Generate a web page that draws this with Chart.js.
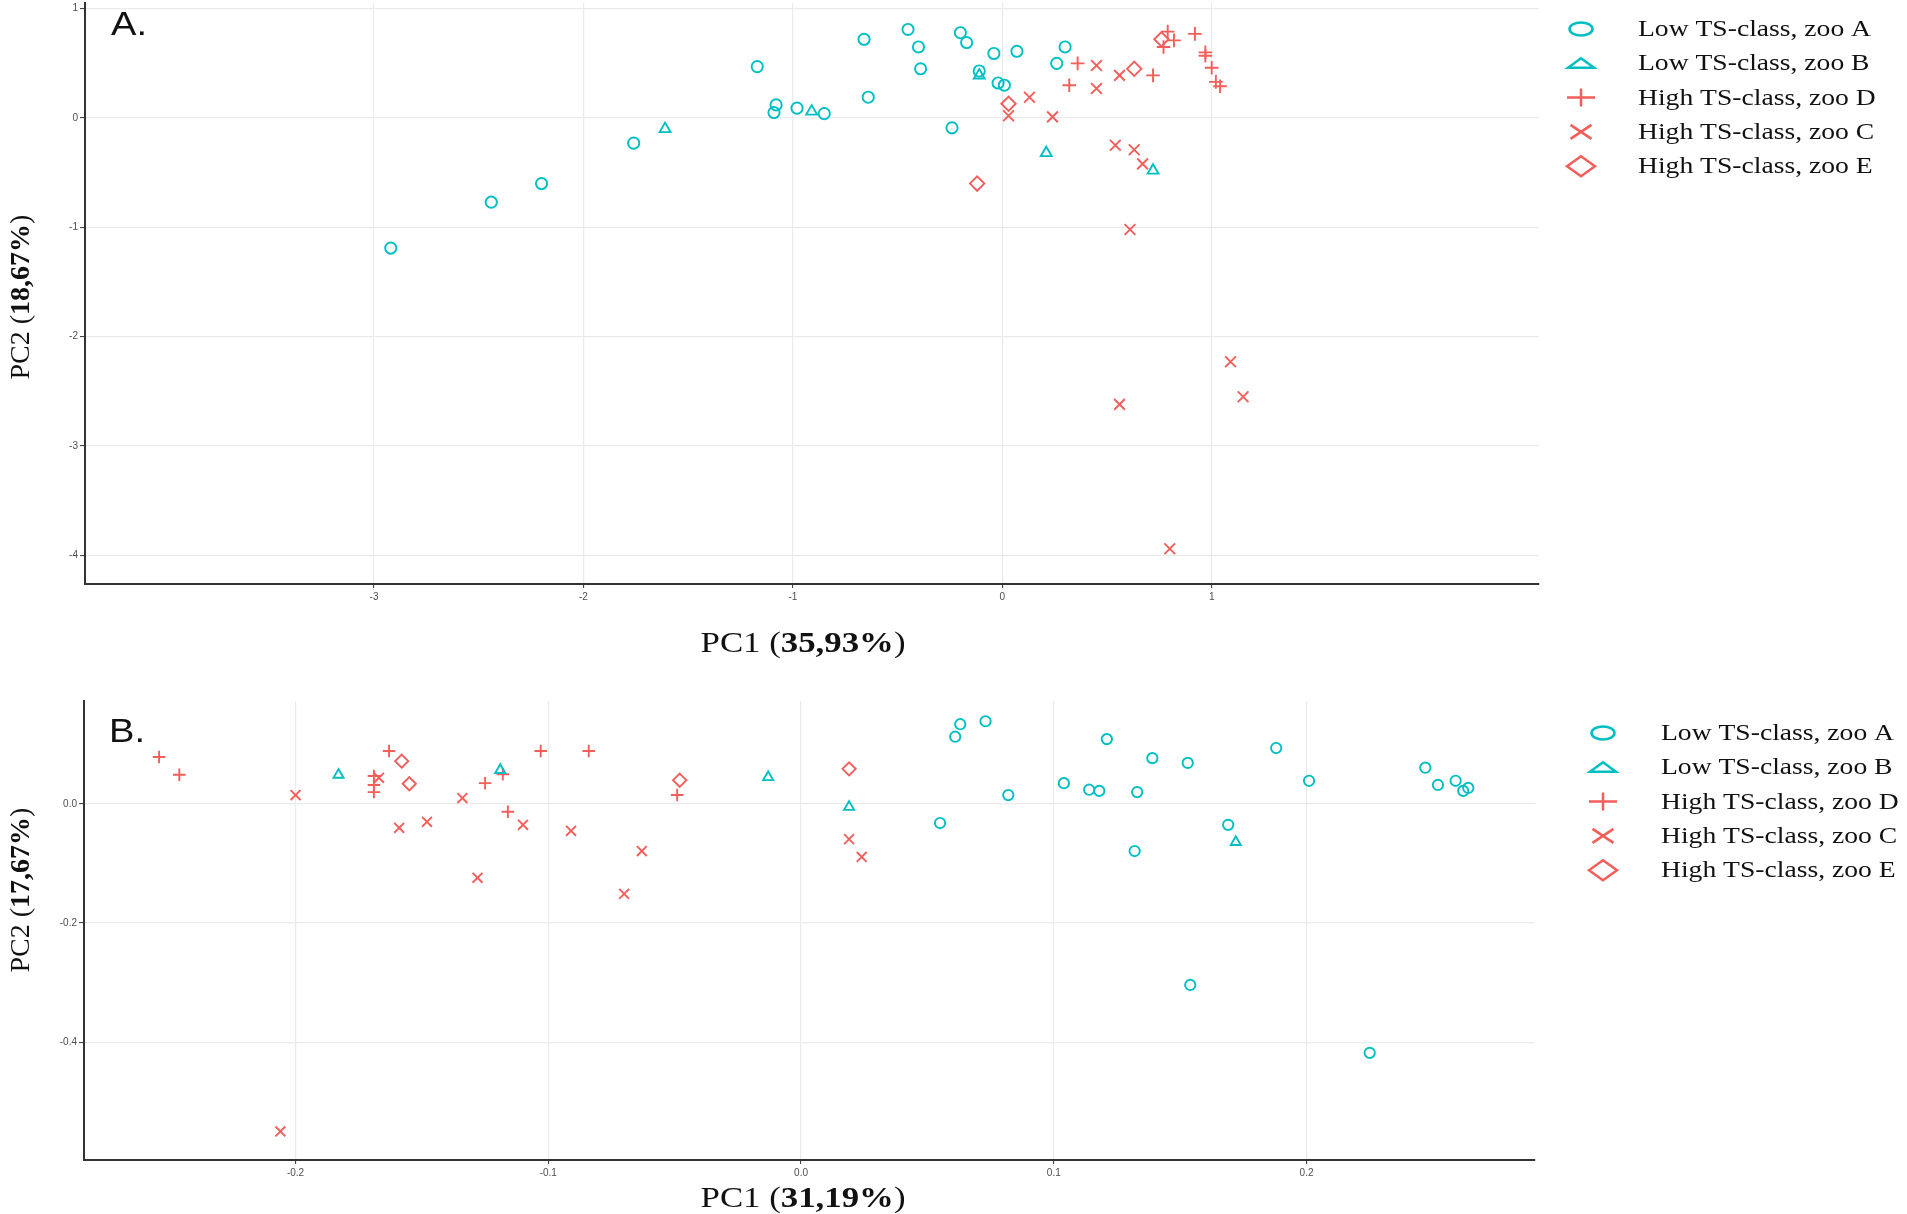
<!DOCTYPE html>
<html>
<head>
<meta charset="utf-8">
<title>PCA - TS-class by zoo</title>
<script src="https://cdn.jsdelivr.net/npm/chart.js@4.4.0/dist/chart.umd.min.js"></script>
<style>
  html, body { margin: 0; padding: 0; background: #fff; }
  #wrap { position: relative; width: 1907px; height: 1214px; overflow: hidden; background: #fff; }
  canvas { position: absolute; left: 0; }
  #pcaA { top: 0; width: 1907px; height: 690px; }
  #pcaB { top: 690px; width: 1907px; height: 524px; }
</style>
</head>
<body>
<div id="wrap">
  <canvas id="pcaA" width="1907" height="690"></canvas>
  <canvas id="pcaB" width="1907" height="524"></canvas>
</div>
<script>
const CYAN = '#00BFC4';
const RED = '#F35E5A';

// legend / series
const seriesLabels = ['Low TS-class, zoo A', 'Low TS-class, zoo B', 'High TS-class, zoo D', 'High TS-class, zoo C', 'High TS-class, zoo E'];
const seriesStyles = ['circle', 'triangle', 'cross', 'crossRot', 'rectRot'];
const seriesColors = [CYAN, CYAN, RED, RED, RED];

// ---- Panel A (PC1 x PC2) ----
const aZooA = [
  [-2.92, -1.19], [-2.44, -0.77], [-2.20, -0.60], [-1.76, -0.23], [-1.17, 0.47],
  [-1.08, 0.12], [-1.09, 0.05], [-0.98, 0.09], [-0.85, 0.04], [-0.66, 0.72],
  [-0.64, 0.19], [-0.45, 0.81], [-0.40, 0.65], [-0.39, 0.45], [-0.20, 0.78],
  [-0.17, 0.69], [-0.24, -0.09], [-0.04, 0.59], [-0.11, 0.43], [-0.02, 0.32],
  [0.01, 0.30], [0.07, 0.61], [0.26, 0.50], [0.30, 0.65]
];
const aZooB = [[-1.61, -0.10], [-0.91, 0.06], [-0.11, 0.39], [0.21, -0.32], [0.72, -0.48]];
const aZooD = [
  [0.36, 0.50], [0.32, 0.30], [0.72, 0.39], [0.79, 0.79], [0.82, 0.71], [0.77, 0.65],
  [0.92, 0.77], [0.97, 0.60], [0.97, 0.57], [1.00, 0.46], [1.02, 0.33], [1.04, 0.29]
];
const aZooC = [
  [0.13, 0.19], [0.03, 0.02], [0.24, 0.01], [0.45, 0.48], [0.45, 0.27], [0.56, 0.39],
  [0.54, -0.25], [0.63, -0.29], [0.67, -0.42], [0.61, -1.02], [1.09, -2.23],
  [1.15, -2.55], [0.56, -2.62], [0.80, -3.94]
];
const aZooE = [[0.03, 0.13], [-0.12, -0.60], [0.63, 0.45], [0.76, 0.72]];
const aTicksX = [-3, -2, -1, 0, 1];
const aTicksY = [1, 0, -1, -2, -3, -4];
const aTitleX = ['PC1 (', '35,93%', ')'];
const aTitleY = ['PC2 (', '18,67%', ')'];

// ---- Panel B ----
const bZooA = [
  [0.061, 0.113], [0.063, 0.134], [0.073, 0.139], [0.055, -0.032], [0.082, 0.015],
  [0.104, 0.035], [0.121, 0.109], [0.114, 0.024], [0.118, 0.022], [0.133, 0.020],
  [0.139, 0.077], [0.153, 0.069], [0.132, -0.079], [0.169, -0.035], [0.188, 0.094],
  [0.201, 0.039], [0.247, 0.061], [0.252, 0.032], [0.259, 0.039], [0.262, 0.022],
  [0.264, 0.027], [0.154, -0.304], [0.225, -0.418]
];
const bZooB = [[-0.183, 0.049], [-0.119, 0.057], [-0.013, 0.045], [0.019, -0.005], [0.172, -0.064]];
const bZooD = [
  [-0.254, 0.079], [-0.246, 0.049], [-0.169, 0.047], [-0.169, 0.032], [-0.169, 0.020],
  [-0.163, 0.089], [-0.125, 0.035], [-0.118, 0.050], [-0.116, -0.013], [-0.103, 0.089],
  [-0.084, 0.089], [-0.049, 0.015]
];
const bZooC = [
  [-0.200, 0.015], [-0.167, 0.044], [-0.159, -0.040], [-0.148, -0.030], [-0.134, 0.010],
  [-0.110, -0.035], [-0.128, -0.124], [-0.091, -0.045], [-0.063, -0.079], [-0.070, -0.151],
  [0.019, -0.059], [0.024, -0.089], [-0.206, -0.550]
];
const bZooE = [[-0.158, 0.072], [-0.155, 0.034], [-0.048, 0.040], [0.019, 0.059]];
const bTicksX = [-0.2, -0.1, 0, 0.1, 0.2];
const bTicksY = [0, -0.2, -0.4];
const bTitleX = ['PC1 (', '31,19%', ')'];
const bTitleY = ['PC2 (', '17,67%', ')'];

// marker radius per point style
const markerSize = { circle: 5.6, triangle: 6.3, cross: 6.8, crossRot: 7.6, rectRot: 7.2 };

function drawParts(ctx, parts, size, sx) {
  // parts: [regular, bold, regular]
  const fonts = parts.map((_, i) => (i === 1 ? 'bold ' : '') + size + 'px "Liberation Serif", "Times New Roman", serif');
  let total = 0;
  const widths = parts.map((p, i) => { ctx.font = fonts[i]; const w = ctx.measureText(p).width; total += w; return w; });
  ctx.scale(sx, 1);
  let x = -total / 2;
  parts.forEach((p, i) => { ctx.font = fonts[i]; ctx.fillText(p, x, 0); x += widths[i]; });
}

function legendSymbol(ctx, style, x, y, color) {
  ctx.save();
  ctx.translate(x, y);
  ctx.strokeStyle = color;
  ctx.lineWidth = 2.5;
  ctx.beginPath();
  if (style === 'circle') {
    ctx.ellipse(0, 0, 11.5, 6.5, 0, 0, Math.PI * 2);
  } else if (style === 'triangle') {
    ctx.moveTo(-13, 4.5); ctx.lineTo(0, -5); ctx.lineTo(13, 4.5); ctx.closePath();
  } else if (style === 'cross') {
    ctx.moveTo(-14, 0); ctx.lineTo(14, 0); ctx.moveTo(0, -9); ctx.lineTo(0, 9);
  } else if (style === 'crossRot') {
    ctx.moveTo(-10.5, -7); ctx.lineTo(10.5, 7); ctx.moveTo(-10.5, 7); ctx.lineTo(10.5, -7);
  } else {
    ctx.moveTo(-14, 0); ctx.lineTo(0, -10); ctx.lineTo(14, 0); ctx.lineTo(0, 10); ctx.closePath();
  }
  ctx.stroke();
  ctx.restore();
}

// titles, panel letter and legend
function makeDecor(cfg) {
  return {
    id: 'decor',
    afterDraw(chart) {
      const ctx = chart.ctx;
      ctx.save();
      ctx.fillStyle = '#111';
      ctx.textAlign = 'left';
      ctx.textBaseline = 'alphabetic';

      // panel letter
      ctx.save();
      ctx.translate(cfg.letterX, cfg.letterY);
      ctx.scale(1.12, 1);
      ctx.font = '34px "Liberation Sans", Arial, sans-serif';
      ctx.fillText(cfg.letter, 0, 0);
      ctx.restore();

      // x title
      ctx.save();
      ctx.translate(cfg.xTitleX, cfg.xTitleY);
      drawParts(ctx, cfg.xTitle, 29, 1.2);
      ctx.restore();

      // y title
      ctx.save();
      ctx.translate(cfg.yTitleX, cfg.yTitleY);
      ctx.rotate(-Math.PI / 2);
      drawParts(ctx, cfg.yTitle, 28, 1);
      ctx.restore();

      // legend
      ctx.textBaseline = 'middle';
      chart.data.datasets.forEach((ds, i) => {
        const y = cfg.legendY + i * 34.3;
        legendSymbol(ctx, ds.pointStyle, cfg.legendSymX, y, ds.pointBorderColor);
        ctx.save();
        ctx.translate(cfg.legendTextX, y + 1);
        ctx.scale(1.2, 1);
        ctx.fillStyle = '#111';
        ctx.font = '23px "Liberation Serif", "Times New Roman", serif';
        ctx.fillText(ds.label, 0, 0);
        ctx.restore();
      });
      ctx.restore();
    }
  };
}

function makePanel(canvasId, series, cfg) {
  const datasets = series.map((pts, i) => ({
    label: seriesLabels[i],
    data: pts.map(p => ({ x: p[0], y: p[1] })),
    pointStyle: seriesStyles[i],
    pointRadius: markerSize[seriesStyles[i]] * cfg.markerScale,
    pointBorderColor: seriesColors[i],
    pointBackgroundColor: 'rgba(0,0,0,0)',
    pointBorderWidth: 1.9,
    showLine: false
  }));

  const axisCommon = {
    type: 'linear',
    grid: { color: '#EBEBEB', lineWidth: 1.2, tickColor: '#333', tickWidth: 1 },
    border: { display: true, color: '#333', width: 2 }
  };
  const tickFont = { family: '"Liberation Sans", Arial, sans-serif', size: 10 };
  // keep tick labels from pushing the plot area around
  const noPad = s => { s.paddingTop = 0; s.paddingBottom = 0; s.paddingLeft = 0; s.paddingRight = 0; };

  new Chart(document.getElementById(canvasId), {
    type: 'scatter',
    data: { datasets: datasets },
    options: {
      responsive: false,
      devicePixelRatio: 1,
      animation: false,
      events: [],
      layout: { autoPadding: false, padding: { left: 0, top: cfg.padTop, right: cfg.padRight, bottom: 0 } },
      plugins: { legend: { display: false }, tooltip: { enabled: false } },
      scales: {
        x: {
          ...axisCommon,
          min: cfg.xMin, max: cfg.xMax,
          grid: { ...axisCommon.grid, tickLength: 4 },
          afterBuildTicks: s => { s.ticks = cfg.ticksX.map(v => ({ value: v })); },
          afterFit: s => { s.height = cfg.xAxisH; noPad(s); },
          ticks: { font: tickFont, color: '#4D4D4D', padding: 3, maxRotation: 0, autoSkip: false, callback: v => cfg.fmt(v) }
        },
        y: {
          ...axisCommon,
          min: cfg.yMin, max: cfg.yMax,
          grid: { ...axisCommon.grid, tickLength: 5 },
          afterBuildTicks: s => { s.ticks = cfg.ticksY.map(v => ({ value: v })); },
          afterFit: s => { s.width = cfg.yAxisW; noPad(s); },
          ticks: { font: tickFont, color: '#4D4D4D', padding: 2, autoSkip: false, callback: v => cfg.fmt(v) }
        }
      }
    },
    plugins: [makeDecor(cfg)]
  });
}

makePanel('pcaA', [aZooA, aZooB, aZooD, aZooC, aZooE], {
  xMin: -4.38, xMax: 2.563, yMin: -4.263, yMax: 1.052,
  ticksX: aTicksX, ticksY: aTicksY, fmt: v => String(v),
  padTop: 3, padRight: 1907 - 1539, yAxisW: 85, xAxisH: 690 - 584,
  markerScale: 1,
  letter: 'A.', letterX: 111, letterY: 35,
  xTitle: aTitleX, xTitleX: 803, xTitleY: 652,
  yTitle: aTitleY, yTitleX: 29, yTitleY: 297,
  legendSymX: 1581, legendTextX: 1638, legendY: 29
});

makePanel('pcaB', [bZooA, bZooB, bZooD, bZooC, bZooE], {
  xMin: -0.2837, xMax: 0.2904, yMin: -0.598, yMax: 0.173,
  ticksX: bTicksX, ticksY: bTicksY, fmt: v => v.toFixed(1),
  padTop: 11, padRight: 1907 - 1535, yAxisW: 84, xAxisH: 524 - 470,
  markerScale: 0.92,
  letter: 'B.', letterX: 109, letterY: 52,
  xTitle: bTitleX, xTitleX: 803, xTitleY: 517,
  yTitle: bTitleY, yTitleX: 29, yTitleY: 200,
  legendSymX: 1603, legendTextX: 1661, legendY: 43
});
</script>
</body>
</html>
